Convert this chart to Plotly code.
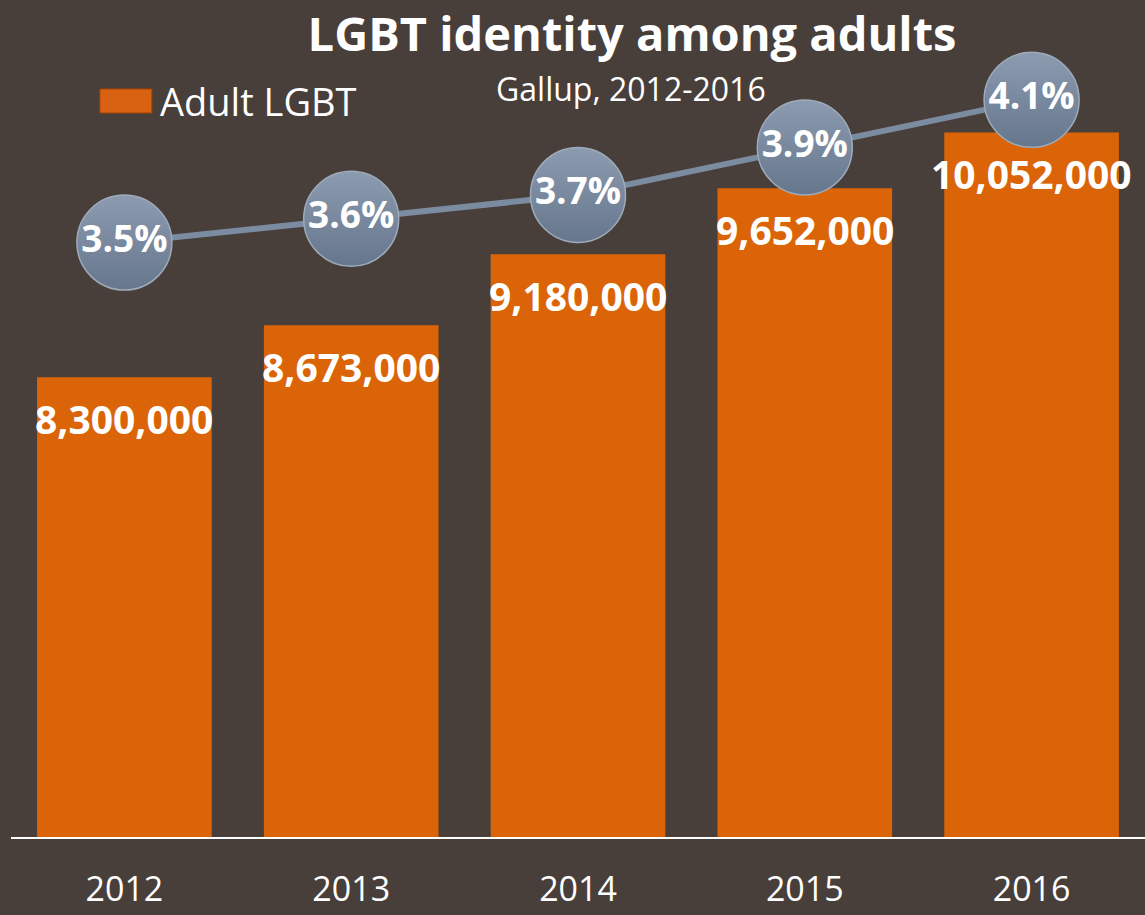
import plotly.graph_objects as go

years = ["2012", "2013", "2014", "2015", "2016"]
adults = [8300000, 8673000, 9180000, 9652000, 10052000]
adult_labels = ["8,300,000", "8,673,000", "9,180,000", "9,652,000", "10,052,000"]
pct = [3.5, 3.6, 3.7, 3.9, 4.1]
pct_labels = ["3.5%", "3.6%", "3.7%", "3.9%", "4.1%"]

BG = "#483e3a"
FONT = "Open Sans"

fig = go.Figure()
fig.add_trace(go.Bar(
    x=years, y=adults, name="Adult LGBT",
    marker=dict(color="#db6408", line=dict(width=0)),
    showlegend=False, hoverinfo="x+y",
))
fig.add_trace(go.Scatter(
    x=years, y=pct, yaxis="y2", mode="lines+markers+text",
    text=pct_labels, textposition="middle center",
    textfont=dict(family=FONT, size=37, color="white", weight="bold"),
    line=dict(color="#7b8ba0", width=6),
    marker=dict(size=95, color="#8c9bb0",
                gradient=dict(type="vertical", color="#66768c"),
                line=dict(color="#9eabbb", width=1.5)),
    showlegend=False, name="Share",
))

# value labels just inside the top of each bar (x given as category index)
for i, (v, lab) in enumerate(zip(adults, adult_labels)):
    fig.add_annotation(x=i, y=v, text=lab, showarrow=False, xref="x", yref="y",
                       yanchor="middle", yshift=-41,
                       font=dict(family=FONT, size=39, color="white", weight="bold"))

# legend swatch + label
fig.add_shape(type="rect", xref="paper", yref="paper",
              x0=0.0784, x1=0.1242, y0=0.865, y1=0.8937,
              fillcolor="#d96212", line=dict(color="#a84300", width=1))
fig.add_annotation(xref="paper", yref="paper", x=0.1295, y=0.8793,
                   xanchor="left", yanchor="middle", showarrow=False,
                   text="Adult LGBT", font=dict(family=FONT, size=38, color="white"))

fig.update_layout(
    width=1145, height=915,
    paper_bgcolor=BG, plot_bgcolor=BG,
    margin=dict(l=11, r=0, t=0, b=78),
    bargap=0.23,
    title=dict(text="<b>LGBT identity among adults</b>", x=0.552, xanchor="center",
               y=1 - 35 / 915, yanchor="middle", yref="container",
               font=dict(family=FONT, size=47, color="white")),
    xaxis=dict(type="category", range=[-0.5, 4.5], showline=True, linecolor="white",
               linewidth=2, showgrid=False, ticks="", automargin=False,
               tickfont=dict(family=FONT, size=34, color="white"),
               ticklabelstandoff=21, zeroline=False),
    yaxis=dict(range=[5010000, 11000000], visible=False, showgrid=False, automargin=False),
    yaxis2=dict(range=[1.0, 4.52], overlaying="y", visible=False, showgrid=False,
                automargin=False),
)
fig.add_annotation(xref="paper", yref="paper", x=0.547, y=(837 - 88) / 837,
                   xanchor="center", yanchor="middle", showarrow=False,
                   text="Gallup, 2012-2016", font=dict(family=FONT, size=32, color="white"))

fig.write_html("out.html", post_script="document.body.style.margin='0px';",
               config={"displayModeBar": False})
